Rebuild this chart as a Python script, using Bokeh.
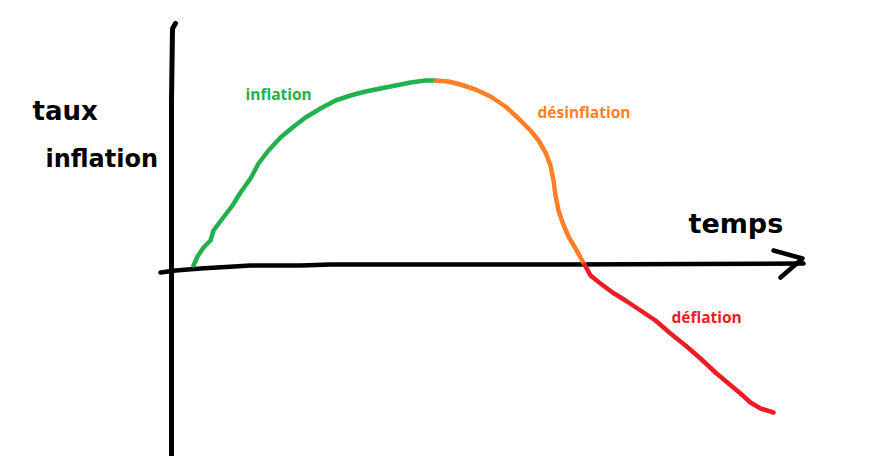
from bokeh.plotting import figure
from bokeh.models import Range1d
from bokeh.core.properties import value
from bokeh.embed import file_html
from bokeh.resources import INLINE

# Data: x = time, y = inflation rate (origin at axes crossing)
inflation_x = [21, 25, 31, 38, 41, 50, 60, 68, 78, 86, 96, 108, 120, 133, 148, 163, 178, 193, 208, 223, 238, 253, 263]
inflation_y = [3, 12, 21, 28, 38, 50, 63, 76, 90, 105, 118, 131, 141, 151, 160, 168, 173, 177, 180, 183, 186, 188, 188]

desinflation_x = [263, 276, 288, 303, 318, 333, 346, 358, 366, 373, 378, 381, 383, 386, 390, 396, 403, 408, 412]
desinflation_y = [188, 187, 184, 179, 172, 162, 150, 138, 128, 116, 103, 88, 73, 58, 46, 32, 20, 11, 4]

deflation_x = [412, 418, 428, 440, 453, 468, 483, 498, 513, 528, 543, 556, 568, 578, 588, 601]
deflation_y = [4, -7, -15, -24, -32, -42, -52, -65, -77, -90, -104, -115, -125, -134, -140, -144]

# hand-drawn axes
haxis_x = [-12, 3, 28, 78, 128, 158, 388, 631]
haxis_y = [-4, -2, 0, 3, 3, 4, 4, 5]
arrow_x = [601, 630, 608]
arrow_y = [18, 10, -9]
vaxis_x = [3, 0, -1, -1]
vaxis_y = [245, 240, 168, -187]

labels = ["inflation", "désinflation", "déflation"]

p = figure(width=859, height=456, output_backend="svg", toolbar_location=None,
           x_range=Range1d(-172, 687), y_range=Range1d(-188, 268),
           min_border=0)
p.axis.visible = False
p.grid.visible = False
p.outline_line_color = None
p.background_fill_color = "white"
p.border_fill_color = "white"

p.line(vaxis_x, vaxis_y, line_color="black", line_width=5, line_cap="round", line_join="round")
p.line(haxis_x, haxis_y, line_color="black", line_width=4.5, line_cap="round", line_join="round")
p.line(arrow_x, arrow_y, line_color="black", line_width=4.5, line_cap="round", line_join="round")

p.line(inflation_x, inflation_y, line_color="#22B14C", line_width=4.5, line_cap="round", line_join="round")
p.line(desinflation_x, desinflation_y, line_color="#FF7F27", line_width=4.5, line_cap="round", line_join="round")
p.line(deflation_x, deflation_y, line_color="#ED1C24", line_width=4.5, line_cap="round", line_join="round")

p.text(x=[73, 365, 499], y=[175, 157, -48], text=labels,
       text_color=["#22B14C", "#FF7F27", "#ED1C24"],
       text_font=value("Open Sans"), text_font_style="bold", text_font_size="15.5px",
       text_baseline="middle", text_align="left")

# hand-written axis titles
p.text(x=[-140], y=[158], text=["taux"], text_color="black",
       text_font=value("DejaVu Sans"), text_font_style="bold", text_font_size="26px",
       text_baseline="middle", text_align="left")
p.text(x=[-127], y=[110], text=["inflation"], text_color="black",
       text_font=value("DejaVu Sans"), text_font_style="bold", text_font_size="24px",
       text_baseline="middle", text_align="left")
p.text(x=[516], y=[45], text=["temps"], text_color="black",
       text_font=value("DejaVu Sans"), text_font_style="bold", text_font_size="27px",
       text_baseline="middle", text_align="left")

open("out.html", "w").write(file_html(p, INLINE))
